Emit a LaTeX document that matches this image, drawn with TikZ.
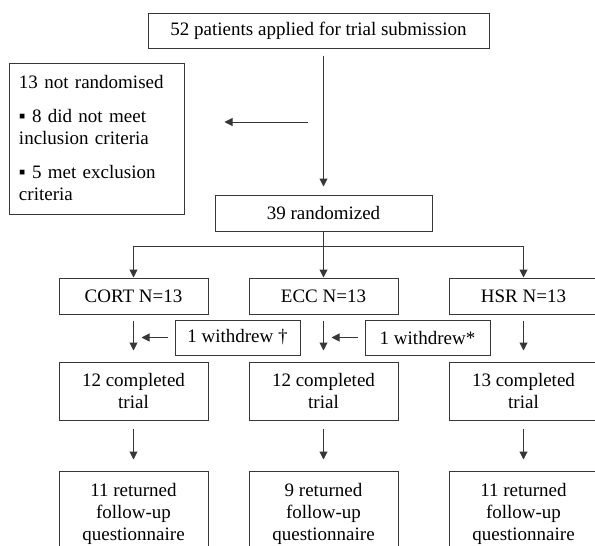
\documentclass[tikz,border=0pt]{standalone}
\usepackage{fontspec}
\setmainfont{Liberation Serif}
\usetikzlibrary{arrows.meta,positioning}
\definecolor{linegray}{RGB}{55,55,55}

\begin{document}
\begin{tikzpicture}[
    x=1pt, y=-1pt,
    font=\fontsize{19}{22}\selectfont,
    box/.style={rectangle, draw=linegray, line width=1pt, inner sep=2pt, align=center},
    col/.style={box, minimum width=149pt},
    arr/.style={draw=linegray, line width=1pt, -{Triangle[length=8pt,width=8pt]}}
]
    \useasboundingbox (0,0) rectangle (595,546);

    \node[box, minimum width=341pt, minimum height=35pt] (applied) at (318.5,30.5) {52 patients applied for trial submission};
    \node[box, align=left, text width=155pt, inner xsep=10pt, minimum height=151pt] (notrand) at (96.5,138.5) {13 not randomised\\[12pt]
        ▪ 8 did not meet\\inclusion criteria\\[12pt]
        ▪ 5 met exclusion\\criteria};
    \node[box, minimum width=217pt, minimum height=36pt] (rand) at (323.5,213) {39 randomized};

    % treatment arms
    \node[col, minimum height=36pt] (cort) at (133.5,296) {CORT N=13};
    \node[col, minimum height=36pt] (ecc) at (323.5,296) {ECC N=13};
    \node[col, minimum height=36pt] (hsr) at (523.5,296) {HSR N=13};

    \node[col, minimum height=58pt, below=47pt of cort] (compcort) {12 completed\\trial};
    \node[col, minimum height=58pt, below=47pt of ecc] (compecc) {12 completed\\trial};
    \node[col, minimum height=58pt, below=47pt of hsr] (comphsr) {13 completed\\trial};

    \node[col, minimum height=85pt, below=50pt of compcort] (retcort) {11 returned\\follow-up\\questionnaire};
    \node[col, minimum height=85pt, below=50pt of compecc] (retecc) {9 returned\\follow-up\\questionnaire};
    \node[col, minimum height=85pt, below=50pt of comphsr] (rethsr) {11 returned\\follow-up\\questionnaire};

    % withdrawals
    \node[box, minimum width=125pt, minimum height=35pt] (wdcort) at (237.5,337.5) {1 withdrew †};
    \node[box, minimum width=125pt, minimum height=35pt] (wdecc) at (427.5,337.5) {1 withdrew*};

    \coordinate (split) at (308,122);
    \coordinate (fork) at (323.5,246);

    \draw[arr, shorten <=7pt, shorten >=8pt] (applied.south -| rand.north) -- (rand.north);
    \draw[arr, shorten >=40pt] (split) -- (split -| notrand.east);
    \draw[linegray, line width=1pt] (rand.south) -- (fork);
    \draw[arr] (fork) -| (cort.north);
    \draw[arr] (fork) -- (ecc.north);
    \draw[arr] (fork) -| (hsr.north);

    \foreach \g in {cort,ecc,hsr} {
        \draw[arr, shorten <=6pt, shorten >=11pt] (\g) -- (comp\g);
        \draw[arr, shorten <=8pt, shorten >=11pt] (comp\g) -- (ret\g);
    }
    \draw[arr, shorten <=7pt, shorten >=8pt] (wdcort.west) -- (wdcort.west -| cort);
    \draw[arr, shorten <=7pt, shorten >=8pt] (wdecc.west) -- (wdecc.west -| ecc);
\end{tikzpicture}
\end{document}
